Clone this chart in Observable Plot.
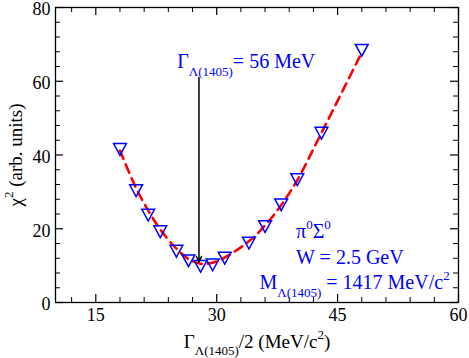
<!DOCTYPE html>
<html>
<head>
<meta charset="utf-8">
<script src="https://cdn.jsdelivr.net/npm/d3@7"></script>
<script src="https://cdn.jsdelivr.net/npm/@observablehq/plot@0.6"></script>
<style>
  html, body { margin: 0; padding: 0; background: #fff; }
  #chart svg { display: block; }
  #chart svg text { font-family: "Liberation Serif", "Times New Roman", serif; }
</style>
</head>
<body>
<div id="chart"></div>
<script>
// ---- data ----
const widthX   = [18, 20, 21.5, 23, 25, 26.5, 28, 29.5, 31, 34, 36, 38, 40, 43, 48];
const chi2     = [41.5, 30.3, 23.7, 19.2, 13.9, 11.3, 9.8, 10.2, 12.0, 16.1, 20.6, 26.5, 33.3, 45.9, 68.4];
const fitX     = [18, 20, 21.5, 23, 25, 26.5, 28, 29.5, 31, 34, 36, 38, 40, 43, 48];
const fitY     = [41.2, 31.0, 25.0, 19.8, 14.6, 11.8, 10.5, 10.8, 12.2, 16.6, 20.9, 26.4, 33.2, 46.0, 67.8];
const xMajor   = [15, 30, 45, 60];
const xMinor   = [12, 18, 21, 24, 27, 33, 36, 39, 42, 48, 51, 54, 57];
const yMajor   = [0, 20, 40, 60, 80];
const yMinor   = [4, 8, 12, 16, 24, 28, 32, 36, 44, 48, 52, 56, 64, 68, 72, 76];
const arrowX   = [27.8];
const arrowY   = [61, 11];
const annTexts = ["Γ_{Λ(1405)}= 56 MeV", "π^{0}Σ^{0}", "W = 2.5 GeV", "M_{Λ(1405)} = 1417 MeV/c^{2}"];
const annX     = [25.1, 39.85, 39.85, 35.3];
const annY     = [65.1, 19.2, 12.0, 5.2];
const xLabel   = "Γ_{Λ(1405)}/2 (MeV/c^{2})";
const yLabel   = "χ^{2} (arb. units)";

// ---- layout ----
const W = 469, H = 358, mt = 7, mb = 56, ml = 55, mr = 11;
const ph = H - mt - mb, pw = W - ml - mr;
const FONT = "Liberation Serif";
const BLUE = "#0000ff", RED = "#ff0000";

const points = widthX.map((x, i) => ({x, y: chi2[i]}));
const fit = fitX.map((x, i) => ({x, y: fitY[i]}));
const ann = annTexts.map((t, i) => ({t, x: annX[i], y: annY[i]}));
const arrowData = [{x: arrowX[0], y1: arrowY[0], y2: arrowY[1]}];

// inverted triangle symbol centred on its bounding box
const invTri = {
  draw(ctx, size) {
    const hw = 6.4, hh = 5.9;
    ctx.moveTo(-hw, -hh);
    ctx.lineTo(hw, -hh);
    ctx.lineTo(0, hh);
    ctx.closePath();
  }
};

const chart = Plot.plot({
  width: W, height: H,
  marginTop: mt, marginBottom: mb, marginLeft: ml, marginRight: mr,
  style: {fontFamily: FONT, fontSize: "18px", color: "black", background: "white"},
  x: {domain: [10, 60]},
  y: {domain: [0, 80]},
  marks: [
    Plot.axisX({ticks: xMajor, tickSize: 0, tickPadding: 6, label: null, fontSize: 18, fontFamily: FONT}),
    Plot.axisY({ticks: yMajor, tickSize: 0, tickPadding: 5, label: null, fontSize: 18, fontFamily: FONT, dy: 2}),
    // inward major ticks
    Plot.tickX(xMajor, {x: d => d, insetTop: ph - 8, stroke: "black", strokeWidth: 1.2}),
    Plot.tickX(xMajor, {x: d => d, insetBottom: ph - 8, stroke: "black", strokeWidth: 1.2}),
    Plot.tickY(yMajor, {y: d => d, insetRight: pw - 8, stroke: "black", strokeWidth: 1.2}),
    Plot.tickY(yMajor, {y: d => d, insetLeft: pw - 8, stroke: "black", strokeWidth: 1.2}),
    // inward minor ticks
    Plot.tickX(xMinor, {x: d => d, insetTop: ph - 5, stroke: "black", strokeWidth: 1}),
    Plot.tickX(xMinor, {x: d => d, insetBottom: ph - 5, stroke: "black", strokeWidth: 1}),
    Plot.tickY(yMinor, {y: d => d, insetRight: pw - 5, stroke: "black", strokeWidth: 1}),
    Plot.tickY(yMinor, {y: d => d, insetLeft: pw - 5, stroke: "black", strokeWidth: 1}),
    Plot.frame({stroke: "black", strokeWidth: 1.3}),
    // fit curve
    Plot.line(fit, {x: "x", y: "y", stroke: RED, strokeWidth: 2.6, strokeDasharray: "9,6", curve: "catmull-rom"}),
    // points
    Plot.dot(points, {x: "x", y: "y", symbol: invTri, r: 5, stroke: BLUE, strokeWidth: 1.5, fill: "none"}),
    // arrow
    Plot.arrow(arrowData, {x: "x", y1: "y1", y2: "y2", stroke: "black", strokeWidth: 1.5, headLength: 6, headAngle: 50}),
    // annotations (baseline at the given y)
    Plot.text(ann, {x: "x", y: "y", text: "t", textAnchor: "start", lineAnchor: "bottom", dy: 6, fill: BLUE, fontSize: 20, fontFamily: FONT}),
    // axis labels
    Plot.text([xLabel], {text: d => d, frameAnchor: "bottom", dy: 45, lineAnchor: "bottom", textAnchor: "middle", fontSize: 19, fill: "black", fontFamily: FONT}),
    Plot.text([yLabel], {text: d => d, frameAnchor: "left", dx: -39.5, rotate: -90, lineAnchor: "middle", textAnchor: "middle", fontSize: 19, fill: "black", fontFamily: FONT})
  ]
});

// convert _{..} and ^{..} markup into sub/superscript tspans
function richify(svg) {
  d3.select(svg).selectAll("text").each(function() {
    const s = this.textContent;
    if (!/[_^]\{/.test(s)) return;
    const base = parseFloat(this.getAttribute("font-size")) || 18;
    const small = Math.round(base * 0.72);
    const SUB = base * 0.42, SUP = base * 0.5;
    const el = d3.select(this);
    el.text(null);
    const re = /([_^])\{([^}]*)\}/g;
    const parts = [];
    let last = 0, m;
    while ((m = re.exec(s))) {
      if (m.index > last) parts.push({t: s.slice(last, m.index), k: ""});
      parts.push({t: m[2], k: m[1]});
      last = re.lastIndex;
    }
    if (last < s.length) parts.push({t: s.slice(last), k: ""});
    let cur = 0;
    for (const p of parts) {
      const target = p.k === "_" ? SUB : p.k === "^" ? -SUP : 0;
      const ts = el.append("tspan").text(p.t);
      if (target !== cur) ts.attr("dy", (target - cur).toFixed(2));
      if (p.k) ts.attr("font-size", small);
      cur = target;
    }
  });
}
richify(chart);
document.getElementById("chart").appendChild(chart);
</script>
</body>
</html>
